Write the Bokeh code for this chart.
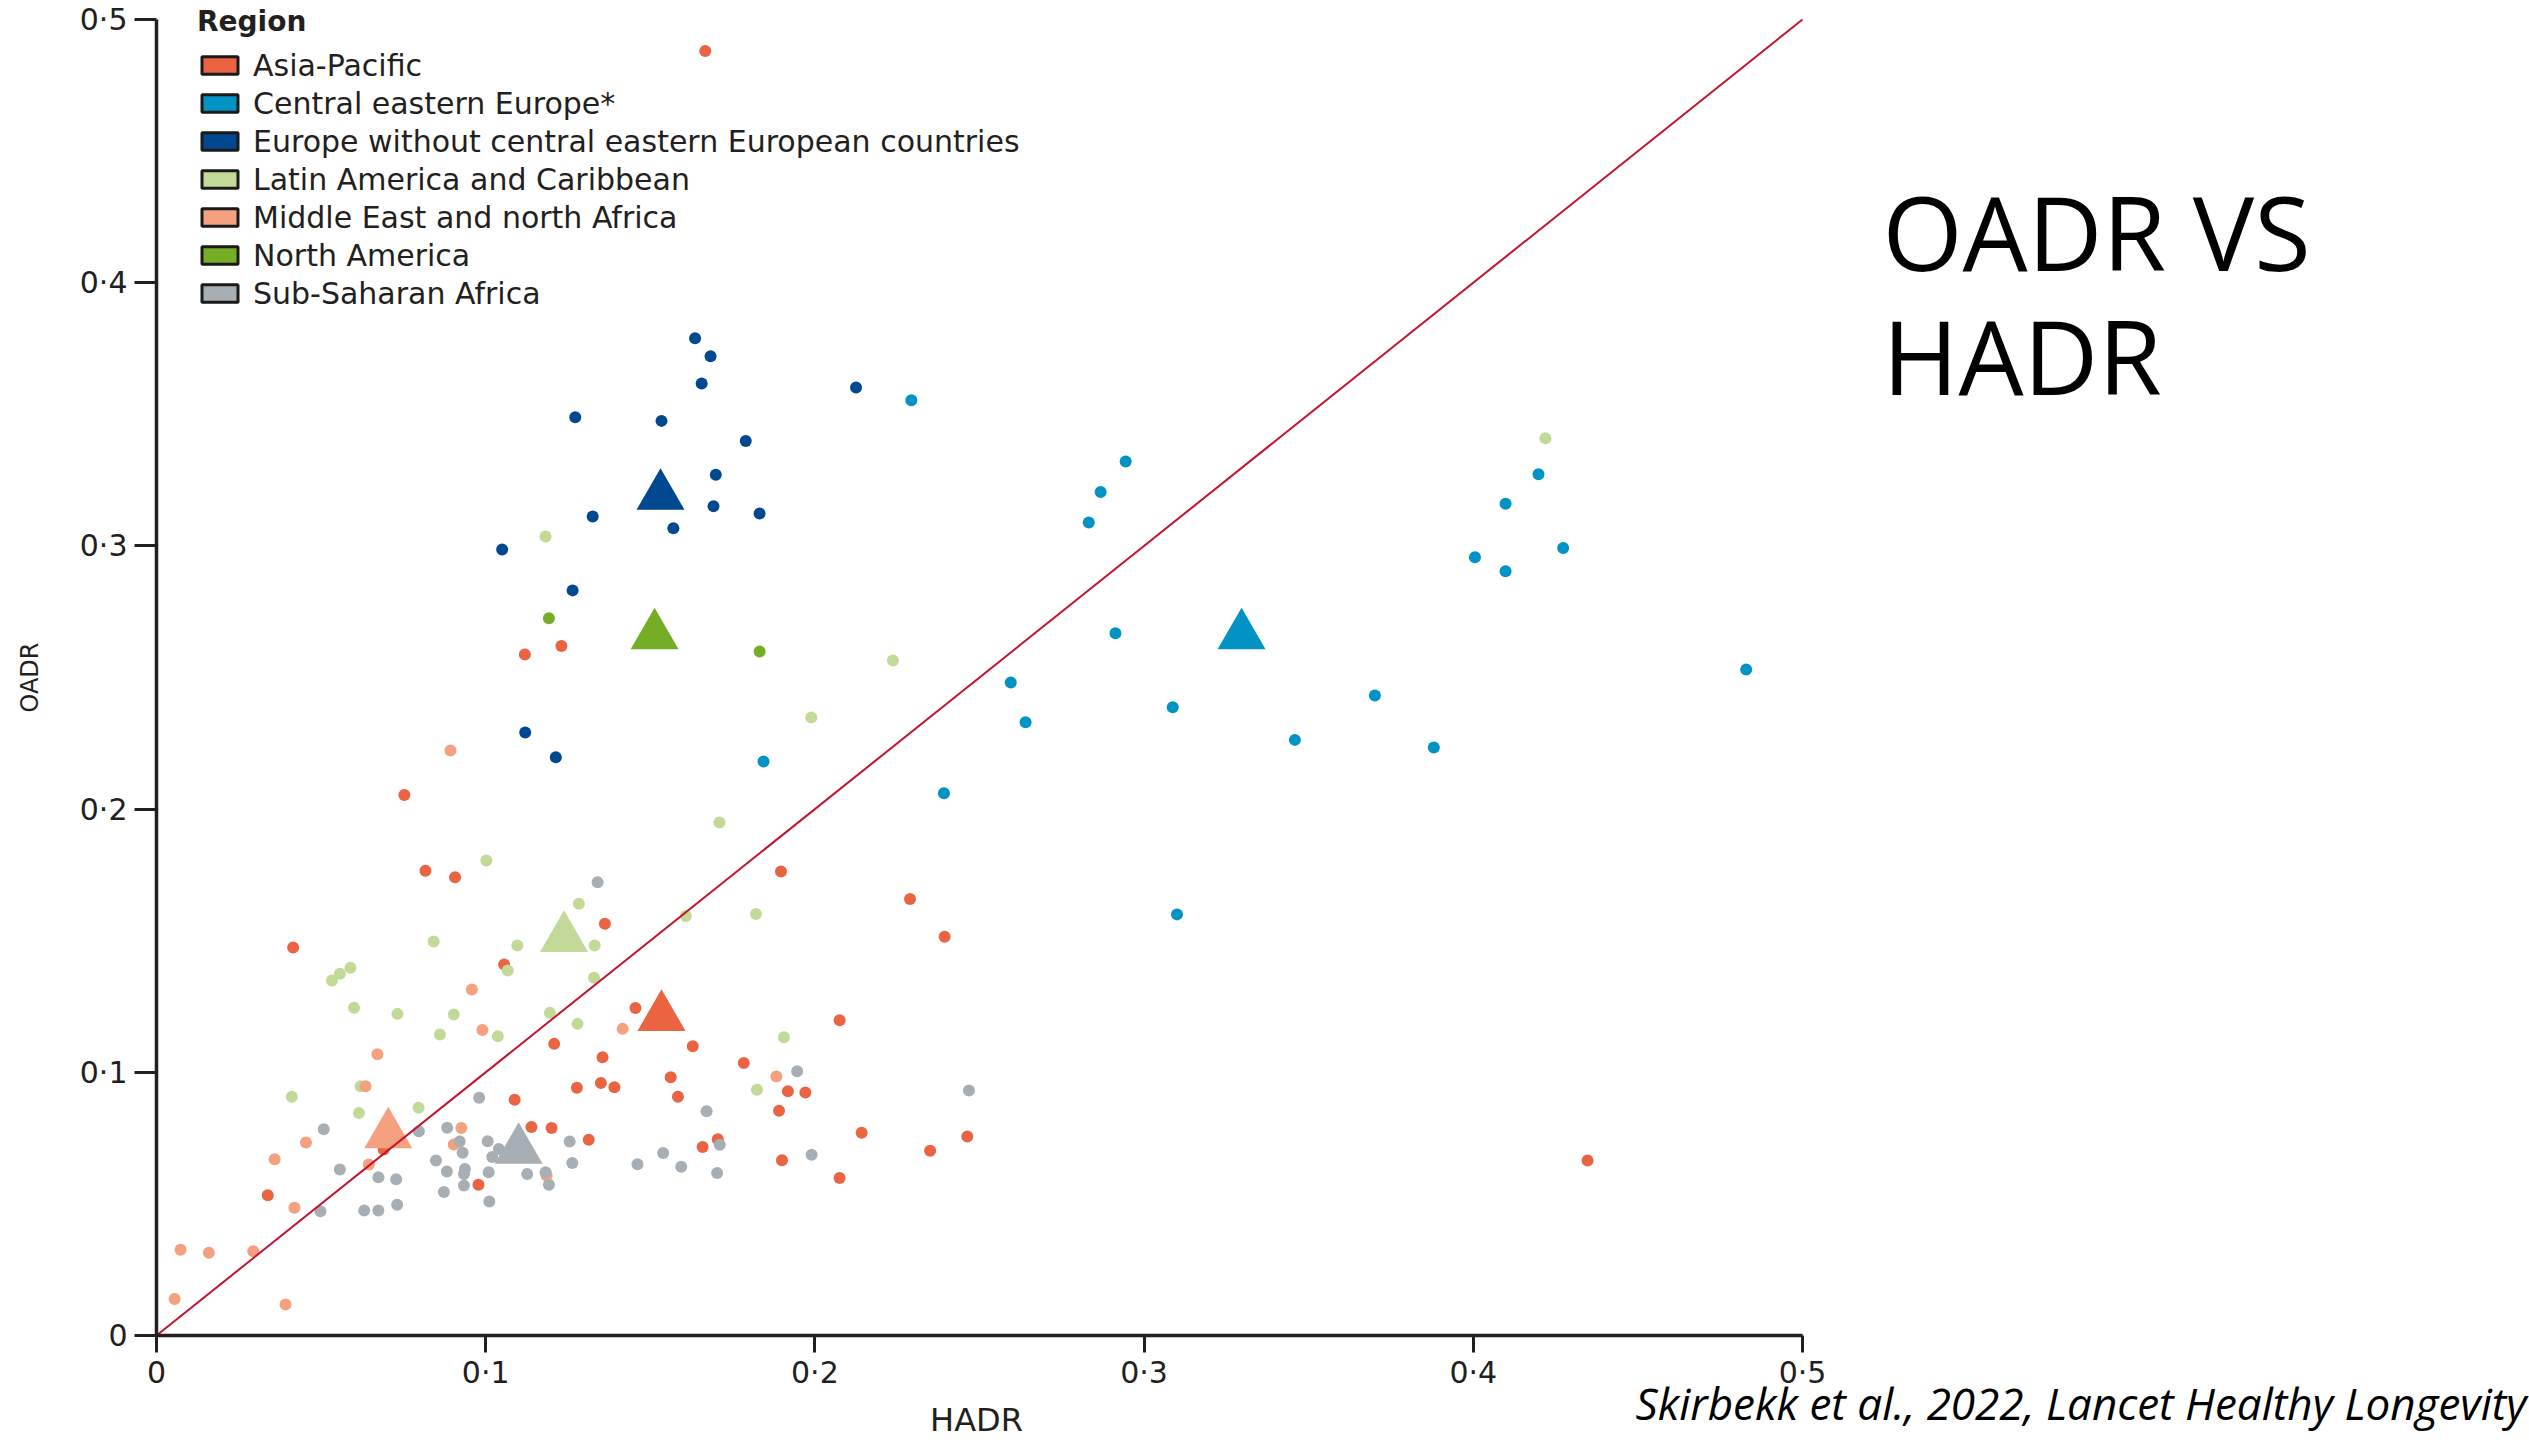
import math
from bokeh.plotting import figure
from bokeh.models import Range1d, FixedTicker, Legend, LegendItem, Label
from bokeh.embed import file_html
from bokeh.resources import INLINE

# ---------------- data (HADR, OADR) ----------------
regions = ["Asia-Pacific", "Central eastern Europe*",
           "Europe without central eastern European countries",
           "Latin America and Caribbean", "Middle East and north Africa",
           "North America", "Sub-Saharan Africa"]
colors = ["#EA6442", "#0093C3", "#00488F", "#C3D998", "#F5A07F", "#76AD27", "#A7AEB4"]

hadr_asia = [0.1667, 0.123, 0.1119, 0.0753, 0.0817, 0.0907, 0.1362, 0.0415, 0.1056, 0.1455,
             0.1897, 0.2289, 0.2394, 0.2075, 0.1208, 0.1355, 0.1277, 0.135, 0.1391, 0.1088,
             0.1139, 0.12, 0.1313, 0.069, 0.0978, 0.0338, 0.1629, 0.1784, 0.1562, 0.1918,
             0.1971, 0.1584, 0.1891, 0.2142, 0.2463, 0.235, 0.1705, 0.1659, 0.19, 0.2075,
             0.4347]
oadr_asia = [0.488, 0.262, 0.2587, 0.2054, 0.1766, 0.1741, 0.1564, 0.1474, 0.141, 0.1244,
             0.1763, 0.1658, 0.1515, 0.1198, 0.1108, 0.1057, 0.0941, 0.0959, 0.0943, 0.0896,
             0.0792, 0.0788, 0.0744, 0.0707, 0.0573, 0.0533, 0.1099, 0.1035, 0.0981, 0.0928,
             0.0923, 0.0907, 0.0854, 0.077, 0.0756, 0.0702, 0.0746, 0.0716, 0.0666, 0.0598,
             0.0665]

hadr_cee = [0.2944, 0.2868, 0.2832, 0.2913, 0.2595, 0.264, 0.3087, 0.3458, 0.3701, 0.388,
            0.4829, 0.4005, 0.4098, 0.4098, 0.4198, 0.4273, 0.31, 0.2293, 0.1844, 0.2392]
oadr_cee = [0.3321, 0.3205, 0.3089, 0.2668, 0.2481, 0.233, 0.2387, 0.2263, 0.2432, 0.2234,
            0.253, 0.2957, 0.2904, 0.316, 0.3272, 0.2992, 0.16, 0.3553, 0.2181, 0.206]

hadr_europe = [0.1636, 0.1683, 0.1656, 0.2125, 0.1272, 0.1534, 0.179, 0.1699, 0.1692, 0.1832,
               0.1325, 0.157, 0.105, 0.1264, 0.112, 0.1213]
oadr_europe = [0.3789, 0.3721, 0.3617, 0.3602, 0.3489, 0.3475, 0.3399, 0.327, 0.3151, 0.3123,
               0.3112, 0.3067, 0.2986, 0.2831, 0.2291, 0.2197]

hadr_latam = [0.1182, 0.2237, 0.1989, 0.171, 0.1002, 0.1283, 0.1608, 0.1821, 0.0842, 0.1096,
              0.1331, 0.0589, 0.0557, 0.0533, 0.1067, 0.1329, 0.06, 0.0732, 0.0903, 0.1195,
              0.1279, 0.0861, 0.1037, 0.1906, 0.0411, 0.062, 0.0615, 0.0796, 0.1824, 0.4219]
oadr_latam = [0.3036, 0.2565, 0.2348, 0.1949, 0.1805, 0.164, 0.1594, 0.1601, 0.1497, 0.1482,
              0.1482, 0.1397, 0.1374, 0.1349, 0.1387, 0.1359, 0.1245, 0.1222, 0.122, 0.1226,
              0.1184, 0.1144, 0.1137, 0.1133, 0.0907, 0.0947, 0.0845, 0.0865, 0.0934, 0.3409]

hadr_mena = [0.0893, 0.0958, 0.1416, 0.099, 0.0671, 0.0635, 0.0926, 0.0454, 0.0359, 0.0903,
             0.0645, 0.1185, 0.0419, 0.0073, 0.0159, 0.0294, 0.0055, 0.0392, 0.1883]
oadr_mena = [0.2223, 0.1315, 0.1165, 0.1161, 0.1069, 0.0947, 0.0788, 0.0733, 0.067, 0.0726,
             0.065, 0.0608, 0.0485, 0.0326, 0.0314, 0.032, 0.0139, 0.0118, 0.0984]

hadr_namerica = [0.1192, 0.1832]
oadr_namerica = [0.2725, 0.2599]

hadr_ssa = [0.134, 0.098, 0.0508, 0.0797, 0.0883, 0.0921, 0.093, 0.1006, 0.104, 0.102,
            0.1255, 0.0557, 0.0849, 0.0882, 0.0937, 0.0934, 0.1009, 0.1126, 0.1182, 0.1192,
            0.1263, 0.0674, 0.0728, 0.0934, 0.0873, 0.1011, 0.0498, 0.0631, 0.0674, 0.0731,
            0.1946, 0.2468, 0.1671, 0.1711, 0.1539, 0.1461, 0.1594, 0.1703, 0.199]
oadr_ssa = [0.1722, 0.0903, 0.0784, 0.0776, 0.0789, 0.0737, 0.0694, 0.0738, 0.0709, 0.0678,
            0.0737, 0.0631, 0.0665, 0.0623, 0.0633, 0.0614, 0.062, 0.0614, 0.062, 0.0573,
            0.0655, 0.0601, 0.0594, 0.057, 0.0545, 0.0509, 0.0472, 0.0475, 0.0475, 0.0497,
            0.1004, 0.0931, 0.0852, 0.0725, 0.0693, 0.0651, 0.0641, 0.0617, 0.0687]

# regional means (triangles), same order as regions
mean_hadr = [0.1534, 0.3296, 0.1531, 0.1238, 0.0704, 0.1513, 0.110]
mean_oadr = [0.121, 0.266, 0.319, 0.151, 0.0764, 0.266, 0.0705]

tick_values = [0, 0.1, 0.2, 0.3, 0.4, 0.5]
tick_labels = ["0", "0·1", "0·2", "0·3", "0·4", "0·5"]

series_h = [hadr_asia, hadr_cee, hadr_europe, hadr_latam, hadr_mena, hadr_namerica, hadr_ssa]
series_o = [oadr_asia, oadr_cee, oadr_europe, oadr_latam, oadr_mena, oadr_namerica, oadr_ssa]

# ---------------- layout (pixels) ----------------
W, H = 2529, 1440
X0_PX, X1_PX = 156, 1802      # where HADR 0 and 0.5 sit
Y0_PX, Y1_PX = 1335, 19       # where OADR 0 and 0.5 sit
lo, hi = tick_values[0], tick_values[-1]
kx = (X1_PX - X0_PX) / (hi - lo)
ky = (Y0_PX - Y1_PX) / (hi - lo)
x_range = Range1d(lo - X0_PX / kx, lo + (W - X0_PX) / kx)
y_range = Range1d(lo - (H - Y0_PX) / ky, lo + Y0_PX / ky)

p = figure(width=W, height=H, x_range=x_range, y_range=y_range,
           output_backend="svg", toolbar_location=None, title=None,
           min_border_left=0, min_border_right=0, min_border_top=0, min_border_bottom=0)
p.outline_line_color = None
p.grid.visible = False
p.background_fill_color = "white"
p.border_fill_color = "white"

TXT = "#231f20"
for ax in (p.xaxis[0], p.yaxis[0]):
    ax.ticker = FixedTicker(ticks=tick_values)
    ax.major_label_overrides = dict(zip(tick_values, tick_labels))
    ax.bounds = (lo, hi)
    ax.fixed_location = lo
    ax.axis_line_width = 3.5
    ax.axis_line_color = TXT
    ax.major_tick_line_width = 3
    ax.major_tick_line_color = TXT
    ax.major_tick_in = 0
    ax.minor_tick_line_color = None
    ax.major_label_text_font = "DejaVu Sans"
    ax.major_label_text_font_size = "30px"
    ax.major_label_text_color = TXT
p.xaxis.major_tick_out = 17
p.yaxis.major_tick_out = 22
p.xaxis.major_label_standoff = 2
p.yaxis.major_label_standoff = 7

# dots
for h, o, c in zip(series_h, series_o, colors):
    p.scatter(h, o, size=12, fill_color=c, line_color=None, marker="circle")

# regional mean triangles
p.scatter(mean_hadr, mean_oadr, marker="triangle", size=48,
          fill_color=colors, line_color=None)

# y = x reference line across the axis extent
diag = [lo, hi]
p.line(diag, diag, line_color="#C4122F", line_width=2)

# legend (colored boxes)
nan = float("nan")
items = []
for name, c in zip(regions, colors):
    r = p.quad(top=[nan], bottom=[nan], left=[nan], right=[nan], fill_color=c,
               line_color="#1a1a1a", line_width=3)
    items.append(LegendItem(label=name, renderers=[r]))
legend = Legend(items=items, title="Region", location=(197, H - 312),
                glyph_width=45, glyph_height=22, label_height=38, spacing=0,
                label_standoff=11, padding=0, margin=0,
                border_line_color=None, background_fill_alpha=0,
                label_text_font="DejaVu Sans", label_text_font_size="30px",
                label_text_color=TXT,
                title_text_font="DejaVu Sans", title_text_font_size="28px",
                title_text_font_style="bold", title_text_color=TXT,
                title_standoff=8)
p.add_layout(legend, "center")


def lab(px, py, text, **kw):
    """Text centred vertically on a screen pixel (from the top-left of the canvas)."""
    p.add_layout(Label(x=px, y=H - py, x_units="screen", y_units="screen", text=text,
                       text_baseline="middle", **kw))


# axis titles
lab(976, 1419, "HADR", text_font="DejaVu Sans", text_font_size="32px", text_color=TXT,
    text_align="center")
lab(29, 677, "OADR", angle=math.pi / 2, text_font="DejaVu Sans", text_font_size="24px",
    text_color=TXT, text_align="center")

# slide title and citation
lab(1882, 230, "OADR VS", text_font="Open Sans", text_font_size="103px", text_color="black")
lab(1882, 354, "HADR", text_font="Open Sans", text_font_size="103px", text_color="black")
lab(2526, 1402, "Skirbekk et al., 2022, Lancet Healthy Longevity",
    text_font="Open Sans", text_font_size="44px", text_font_style="italic",
    text_color="black", text_align="right")

open("out.html", "w").write(file_html(p, INLINE))
